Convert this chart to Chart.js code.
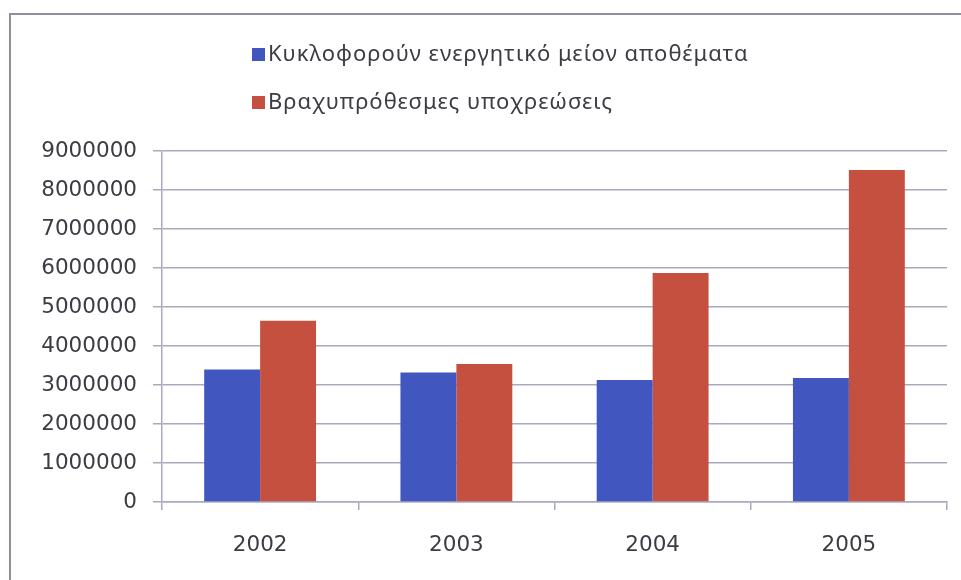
<!DOCTYPE html>
<html>
<head>
<meta charset="utf-8">
<script src="https://cdn.jsdelivr.net/npm/chart.js@4"></script>
<style>
    body { margin: 0; background: #ffffff; }
    #caixa { position: relative; width: 961px; height: 580px; }
    #moldura {
        position: absolute; left: 9px; top: 13px; right: 0; bottom: 0;
        border-left: 2px solid #8e8e9e; border-top: 2px solid #8e8e9e;
    }
    canvas { position: absolute; left: 0; top: 0; }
</style>
</head>
<body>
<div id="caixa">
    <div id="moldura"></div>
    <canvas id="grafico" width="961" height="580"></canvas>
</div>
<script>
const anos = ["2002", "2003", "2004", "2005"];
const nomeAzul = "Κυκλοφορούν ενεργητικό μείον αποθέματα";
const nomeVermelho = "Βραχυπρόθεσμες υποχρεώσεις";
const valoresAzul = [3400000, 3320000, 3130000, 3180000];
const valoresVermelho = [4650000, 3540000, 5870000, 8510000];
const ticksY = [0, 1000000, 2000000, 3000000, 4000000, 5000000, 6000000, 7000000, 8000000, 9000000];

const corAzul = "#4156be";
const corVermelho = "#c6503f";
const corGrade = "#a9a9bf";
const corTexto = "#3c3c44";

// legenda desenhada à mão, duas linhas alinhadas à esquerda
const legendaManual = {
    id: "legendaManual",
    afterDraw(chart) {
        const ctx = chart.ctx;
        ctx.save();
        ctx.font = "22px 'Noto Sans'";
        ctx.letterSpacing = "1px";
        ctx.textBaseline = "alphabetic";
        chart.data.datasets.forEach(function (ds, i) {
            let y = 48 + i * 48;
            ctx.fillStyle = ds.backgroundColor;
            ctx.fillRect(252, y, 13, 13);
            ctx.fillStyle = corTexto;
            ctx.fillText(ds.label, 268, y + 12.5);
        });
        ctx.restore();
    }
};

new Chart(document.getElementById("grafico"), {
    type: "bar",
    data: {
        labels: anos,
        datasets: [{
            label: nomeAzul,
            data: valoresAzul,
            backgroundColor: corAzul,
            barPercentage: 1,
            categoryPercentage: 0.57
        }, {
            label: nomeVermelho,
            data: valoresVermelho,
            backgroundColor: corVermelho,
            barPercentage: 1,
            categoryPercentage: 0.57
        }]
    },
    options: {
        responsive: false,
        animation: false,
        layout: {
            padding: { top: 151, right: 14, bottom: 0, left: 0 }
        },
        plugins: {
            legend: { display: false },
            tooltip: { enabled: false }
        },
        scales: {
            x: {
                grid: {
                    offset: true,
                    drawOnChartArea: false,
                    drawTicks: true,
                    tickLength: 8,
                    color: corGrade,
                    lineWidth: 1.5
                },
                border: { color: corGrade, width: 1.5 },
                ticks: {
                    color: corTexto,
                    font: { family: "DejaVu Sans", size: 21.5 },
                    padding: 23
                },
                afterFit: function (escala) { escala.height = 78; }
            },
            y: {
                min: 0,
                max: 9000000,
                afterBuildTicks: function (escala) {
                    escala.ticks = ticksY.map(v => ({ value: v }));
                },
                grid: {
                    color: corGrade,
                    lineWidth: 1.5,
                    drawTicks: true,
                    tickLength: 9
                },
                border: { color: corGrade, width: 1.5 },
                ticks: {
                    color: corTexto,
                    font: { family: "DejaVu Sans", size: 21.5 },
                    padding: 16,
                    callback: function (valor) { return String(valor); }
                },
                afterFit: function (escala) { escala.width = 162; }
            }
        }
    },
    plugins: [legendaManual]
});
</script>
</body>
</html>
